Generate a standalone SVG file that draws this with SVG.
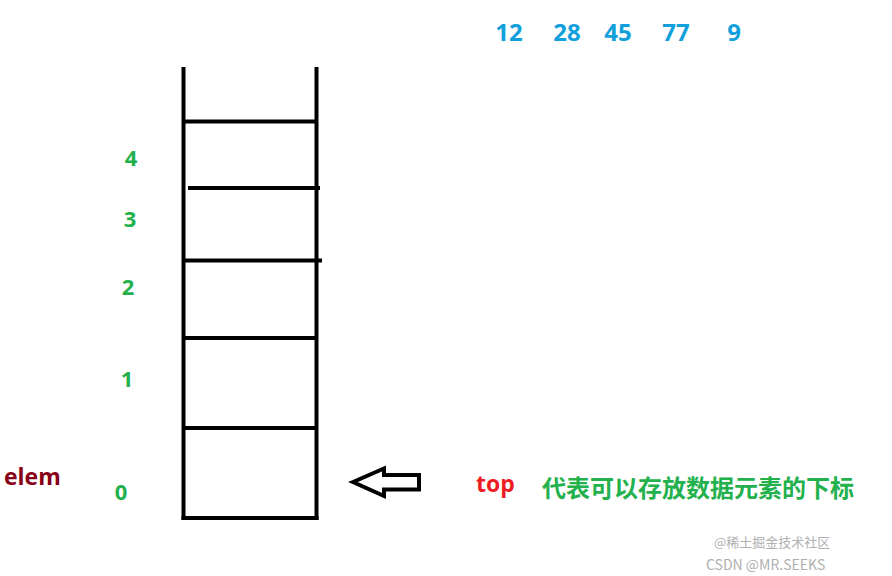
<svg xmlns="http://www.w3.org/2000/svg" width="892" height="576" viewBox="0 0 892 576">
<style>
.ln{stroke:#000;stroke-width:4;fill:none;stroke-linecap:butt}
.num{font-family:"Open Sans","Noto Sans",sans-serif;font-weight:bold;font-size:24px;fill:#12a0dc;text-anchor:middle}
.idx{font-family:"Open Sans","Noto Sans",sans-serif;font-weight:bold;font-size:22px;fill:#22b14c;text-anchor:middle}
.wm{font-family:"Noto Sans CJK SC","Liberation Sans",sans-serif;fill:#b0b0b0}
</style>
<rect width="892" height="576" fill="#fff"/>
<g id="values">
<text class="num" x="509" y="41">12</text>
<text class="num" x="567" y="41">28</text>
<text class="num" x="618" y="41">45</text>
<text class="num" x="676" y="41">77</text>
<text class="num" x="734" y="41">9</text>
</g>
<g id="stack">
<line class="ln" x1="183.5" y1="67" x2="183.5" y2="520"/>
<line class="ln" x1="316.5" y1="67" x2="316.5" y2="520"/>
<line class="ln" x1="183" y1="121.5" x2="316" y2="121.5"/>
<line class="ln" x1="188" y1="188" x2="320" y2="188"/>
<line class="ln" x1="183" y1="260.5" x2="322" y2="260.5"/>
<line class="ln" x1="183" y1="338" x2="318" y2="338"/>
<line class="ln" x1="183" y1="428" x2="318" y2="428"/>
<line class="ln" x1="181.5" y1="518" x2="318.5" y2="518"/>
</g>
<g id="indices">
<text class="idx" x="131" y="166">4</text>
<text class="idx" x="130" y="227">3</text>
<text class="idx" x="128" y="295">2</text>
<text class="idx" x="127" y="387">1</text>
<text class="idx" x="121" y="500">0</text>
</g>
<g id="elem">
<text x="4" y="485" style="font-family:'Open Sans','Noto Sans',sans-serif;font-weight:bold;font-size:23px;fill:#880015">elem</text>
</g>
<g id="connectors">
<path d="M353,482 L384,468.5 L384,475 L419,475 L419,489.5 L384,489.5 L384,496 Z" fill="none" stroke="#000" stroke-width="4" stroke-linejoin="miter"/>
</g>
<g id="top">
<text x="476" y="492" style="font-family:'Open Sans','Noto Sans',sans-serif;font-weight:bold;font-size:23px;fill:#ed1c24">top</text>
<text x="542" y="497" style="font-family:'Noto Sans CJK SC','Noto Sans',sans-serif;font-weight:bold;font-size:24px;fill:#22b14c">代表可以存放数据元素的下标</text>
</g>
<g id="watermark">
<text class="wm" x="714" y="547" font-size="13">@稀土掘金技术社区</text>
<text class="wm" x="706" y="570" font-size="14">CSDN @MR.SEEKS</text>
</g>
</svg>
